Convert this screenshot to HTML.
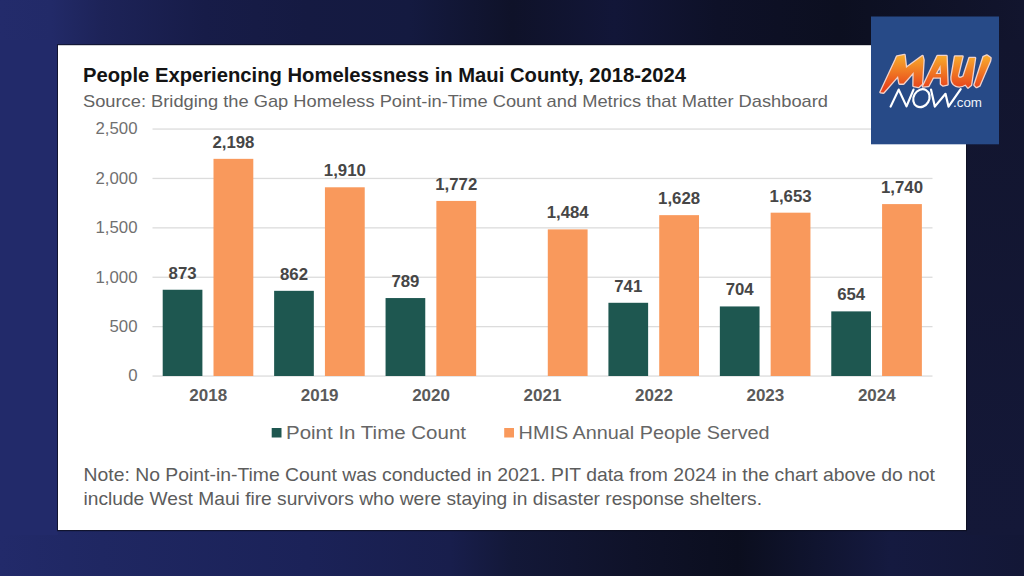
<!DOCTYPE html>
<html><head><meta charset="utf-8">
<style>
html,body{margin:0;padding:0;width:1024px;height:576px;overflow:hidden;background:#141a40;}
svg{display:block;}
text{font-family:"Liberation Sans",sans-serif;}
.title{font-weight:bold;font-size:19.8px;fill:#141414;}
.sub{font-size:16.6px;fill:#636363;}
.yl{font-size:16.8px;fill:#707070;}
.vl{font-size:16.8px;font-weight:bold;fill:#464646;}
.xl{font-size:17px;font-weight:bold;fill:#5a5a5a;}
.lg{font-size:18.8px;fill:#666666;}
.note{font-size:17.8px;fill:#5c5c5c;}
</style></head><body>
<svg width="1024" height="576" viewBox="0 0 1024 576">
<defs>
<linearGradient id="bgt" x1="0" y1="0" x2="1" y2="0">
<stop offset="0" stop-color="#232b6b"/>
<stop offset="0.05" stop-color="#222a68"/>
<stop offset="0.1" stop-color="#1d2358"/>
<stop offset="0.2" stop-color="#171c48"/>
<stop offset="0.3" stop-color="#151a42"/>
<stop offset="0.4" stop-color="#141a40"/>
<stop offset="0.5" stop-color="#0f1229"/>
<stop offset="0.6" stop-color="#121638"/>
<stop offset="0.7" stop-color="#0e1128"/>
<stop offset="0.82" stop-color="#0c0f20"/>
<stop offset="1" stop-color="#12152e"/>
</linearGradient>
<linearGradient id="bgb" x1="0" y1="0" x2="1" y2="0">
<stop offset="0" stop-color="#222a6a"/>
<stop offset="0.1" stop-color="#1f2762"/>
<stop offset="0.3" stop-color="#1b2258"/>
<stop offset="0.44" stop-color="#181e4c"/>
<stop offset="0.5" stop-color="#131838"/>
<stop offset="0.62" stop-color="#0f1229"/>
<stop offset="0.72" stop-color="#0b0e1e"/>
<stop offset="0.87" stop-color="#151a40"/>
<stop offset="1" stop-color="#131736"/>
</linearGradient>
<linearGradient id="bgr" x1="0" y1="0" x2="0" y2="1">
<stop offset="0" stop-color="#12152e"/>
<stop offset="1" stop-color="#141838"/>
</linearGradient>
<linearGradient id="og" gradientUnits="userSpaceOnUse" x1="0" y1="56" x2="0" y2="88">
<stop offset="0" stop-color="#f8aa2c"/>
<stop offset="1" stop-color="#e8441c"/>
</linearGradient>
</defs>
<rect x="0" y="0" width="1024" height="576" fill="#171c46"/>
<rect x="0" y="0" width="1024" height="45" fill="url(#bgt)"/>
<rect x="0" y="530" width="1024" height="46" fill="url(#bgb)"/>
<rect x="0" y="40" width="58" height="495" fill="#222a6a"/>
<rect x="966" y="40" width="58" height="495" fill="url(#bgr)"/>
<rect x="57" y="44.2" width="910" height="487" fill="#0c0e1e" fill-opacity="0.75"/>
<rect x="58" y="45.2" width="908" height="484.8" fill="#ffffff"/>
<text x="83" y="82" class="title" textLength="603" lengthAdjust="spacingAndGlyphs">People Experiencing Homelessness in Maui County, 2018-2024</text>
<text x="83" y="107" class="sub" textLength="745" lengthAdjust="spacingAndGlyphs">Source: Bridging the Gap Homeless Point-in-Time Count and Metrics that Matter Dashboard</text>
<rect x="152.5" y="375.40" width="780" height="1.3" fill="#dcdcdc"/>
<text x="137.5" y="381.40" class="yl" text-anchor="end">0</text>
<rect x="152.5" y="326.00" width="780" height="1.3" fill="#dcdcdc"/>
<text x="137.5" y="332.00" class="yl" text-anchor="end">500</text>
<rect x="152.5" y="276.60" width="780" height="1.3" fill="#dcdcdc"/>
<text x="137.5" y="282.60" class="yl" text-anchor="end">1,000</text>
<rect x="152.5" y="227.20" width="780" height="1.3" fill="#dcdcdc"/>
<text x="137.5" y="233.20" class="yl" text-anchor="end">1,500</text>
<rect x="152.5" y="177.80" width="780" height="1.3" fill="#dcdcdc"/>
<text x="137.5" y="183.80" class="yl" text-anchor="end">2,000</text>
<rect x="152.5" y="128.40" width="780" height="1.3" fill="#dcdcdc"/>
<text x="137.5" y="134.40" class="yl" text-anchor="end">2,500</text>
<rect x="162.70" y="289.75" width="39.7" height="86.25" fill="#1e5750"/>
<text x="182.55" y="278.75" class="vl" text-anchor="middle">873</text>
<rect x="213.50" y="158.84" width="39.8" height="217.16" fill="#f9995c"/>
<text x="233.40" y="147.84" class="vl" text-anchor="middle">2,198</text>
<text x="208.22" y="401.1" class="xl" text-anchor="middle">2018</text>
<rect x="274.13" y="290.83" width="39.7" height="85.17" fill="#1e5750"/>
<text x="293.98" y="279.83" class="vl" text-anchor="middle">862</text>
<rect x="324.93" y="187.29" width="39.8" height="188.71" fill="#f9995c"/>
<text x="344.83" y="176.29" class="vl" text-anchor="middle">1,910</text>
<text x="319.64" y="401.1" class="xl" text-anchor="middle">2019</text>
<rect x="385.56" y="298.05" width="39.7" height="77.95" fill="#1e5750"/>
<text x="405.41" y="287.05" class="vl" text-anchor="middle">789</text>
<rect x="436.36" y="200.93" width="39.8" height="175.07" fill="#f9995c"/>
<text x="456.26" y="189.93" class="vl" text-anchor="middle">1,772</text>
<text x="431.08" y="401.1" class="xl" text-anchor="middle">2020</text>
<rect x="547.79" y="229.38" width="39.8" height="146.62" fill="#f9995c"/>
<text x="567.69" y="218.38" class="vl" text-anchor="middle">1,484</text>
<text x="542.50" y="401.1" class="xl" text-anchor="middle">2021</text>
<rect x="608.42" y="302.79" width="39.7" height="73.21" fill="#1e5750"/>
<text x="628.27" y="291.79" class="vl" text-anchor="middle">741</text>
<rect x="659.22" y="215.15" width="39.8" height="160.85" fill="#f9995c"/>
<text x="679.12" y="204.15" class="vl" text-anchor="middle">1,628</text>
<text x="653.94" y="401.1" class="xl" text-anchor="middle">2022</text>
<rect x="719.85" y="306.44" width="39.7" height="69.56" fill="#1e5750"/>
<text x="739.70" y="295.44" class="vl" text-anchor="middle">704</text>
<rect x="770.65" y="212.68" width="39.8" height="163.32" fill="#f9995c"/>
<text x="790.55" y="201.68" class="vl" text-anchor="middle">1,653</text>
<text x="765.37" y="401.1" class="xl" text-anchor="middle">2023</text>
<rect x="831.28" y="311.38" width="39.7" height="64.62" fill="#1e5750"/>
<text x="851.13" y="300.38" class="vl" text-anchor="middle">654</text>
<rect x="882.08" y="204.09" width="39.8" height="171.91" fill="#f9995c"/>
<text x="901.98" y="193.09" class="vl" text-anchor="middle">1,740</text>
<text x="876.80" y="401.1" class="xl" text-anchor="middle">2024</text>
<rect x="271.7" y="428" width="9.8" height="9.5" fill="#1e5750"/>
<text x="286" y="438.8" class="lg" textLength="180" lengthAdjust="spacingAndGlyphs">Point In Time Count</text>
<rect x="504.2" y="428" width="9.8" height="9.5" fill="#f9995c"/>
<text x="518.6" y="438.8" class="lg" textLength="251" lengthAdjust="spacingAndGlyphs">HMIS Annual People Served</text>
<text x="83.5" y="480.7" class="note" textLength="851.5" lengthAdjust="spacingAndGlyphs">Note: No Point-in-Time Count was conducted in 2021. PIT data from 2024 in the chart above do not</text>
<text x="83.5" y="505.2" class="note" textLength="678.5" lengthAdjust="spacingAndGlyphs">include West Maui fire survivors who were staying in disaster response shelters.</text>
<!-- logo -->
<rect x="871" y="16.5" width="128" height="127.8" fill="#274a87"/>
<g fill="url(#og)" stroke="#f1d3cc" stroke-width="2.6" stroke-linejoin="round" paint-order="stroke" fill-rule="evenodd">
<path d="M880.5 92.2 L895.5 60 L897 56.5 L904.5 55 L906 68 L922.5 56 L923.5 60 L922 84 L918.5 87 L913.5 86 L913.7 72 L903.5 83.6 L899.5 83.6 L898 76 L883.5 92.6 Z"/>
<path d="M923 86.5 L937.5 56 L946.5 56 L947.5 84.5 L943 85.5 L941 84 L941 77.5 L933 77.5 L928.5 86 Z M935.5 74 L940.5 65 L941 74 Z"/>
<path d="M955 56.5 L962.5 56.5 L957.8 76 Q959 79.5 963.5 76.5 L969.5 58 L975 58 L971 85 L968 87.5 L965.5 84.5 Q960.5 87.5 956 85.8 Q951 83.5 951.5 77 Z"/>
<path d="M983.5 57 L987 55.5 L990.5 58 L990 61 L979.5 85.5 L976.5 87 L974.5 85 Z"/>
</g>
<g fill="none" stroke="#ffffff" stroke-width="2.2" stroke-linecap="round" stroke-linejoin="round">
<path d="M890.6 106.6 L898.7 89.6 L906.5 106.4 L913.5 89.6"/>
<ellipse cx="921.4" cy="98.2" rx="7.8" ry="9.3" transform="rotate(30 921.4 98.2)"/>
<path d="M931 89.6 L934.8 106.6 L945.5 93.8 L948.5 106.6 L960.7 89.2"/>
</g>
<text x="953" y="106.8" style="font-size:13.4px;fill:#eef2fa;" textLength="29" lengthAdjust="spacingAndGlyphs">.com</text>
</svg>
</body></html>
